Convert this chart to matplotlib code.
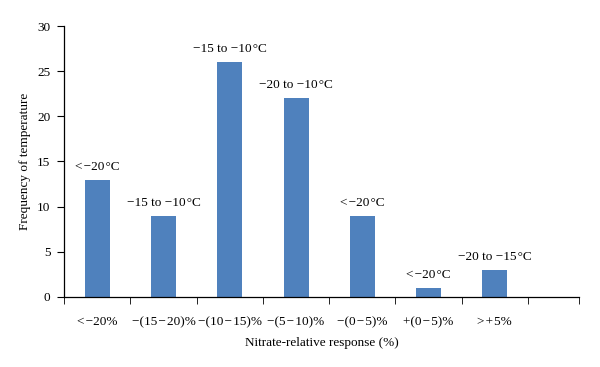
import numpy as np
import matplotlib.pyplot as plt

plt.rcParams['font.family'] = ['Liberation Serif', 'DejaVu Serif']

# categories on the x axis (hair spaces mimic the math-style spacing)
categories = ["<\u200a\u221220%", "\u2212(15\u200a\u2212\u200a20)%", "\u2212(10\u200a\u2212\u200a15)%",
              "\u2212(5\u200a\u2212\u200a10)%", "\u2212(0\u200a\u2212\u200a5)%", "+(0\u200a\u2212\u200a5)%",
              ">\u200a+\u200a5%"]
# frequency of temperature per category
counts = [13, 9, 26, 22, 9, 1, 3]
# temperature range label above each bar
bar_labels = ["<\u200a\u221220\u200a\u00b0C", "\u221215 to \u221210\u200a\u00b0C", "\u221215 to \u221210\u200a\u00b0C",
              "\u221220 to \u221210\u200a\u00b0C", "<\u200a\u221220\u200a\u00b0C", "<\u200a\u221220\u200a\u00b0C",
              "\u221220 to \u221215\u200a\u00b0C"]

fig = plt.figure(figsize=(6.0, 3.67), dpi=100)
ax = fig.add_axes([0.107, 0.191, 0.858, 0.738])

x = np.arange(len(categories))
ax.bar(x, counts, width=0.38, color="#4F81BD")

for xi, c, lab in zip(x, counts, bar_labels):
    ax.annotate(lab, (xi, c), xytext=(0, 5), textcoords="offset points",
                ha="center", va="bottom", fontsize=9.5)

x_end = 7.27
ax.set_xlim(-0.5, x_end)
ax.set_ylim(0, 30)
ax.set_yticks(np.arange(0, 31, 5))
ax.set_xticks(x)
ax.set_xticklabels(categories)
ax.set_xticks(list(np.arange(-0.5, 7.0, 1.0)) + [x_end], minor=True)
ax.tick_params(axis="x", which="major", length=0, pad=14, labelsize=9.5)
ax.tick_params(axis="x", which="minor", length=5, direction="out")
ax.tick_params(axis="y", length=5, direction="out", pad=5, labelsize=9.5)

for s in ["top", "right"]:
    ax.spines[s].set_visible(False)
ax.spines["left"].set_linewidth(0.9)
ax.spines["bottom"].set_linewidth(0.9)

ax.set_xlabel("Nitrate-relative response (%)", fontsize=9.5, labelpad=6)
ax.set_ylabel("Frequency of temperature", fontsize=9.5, labelpad=4)

fig.savefig("out.png", dpi=100)
